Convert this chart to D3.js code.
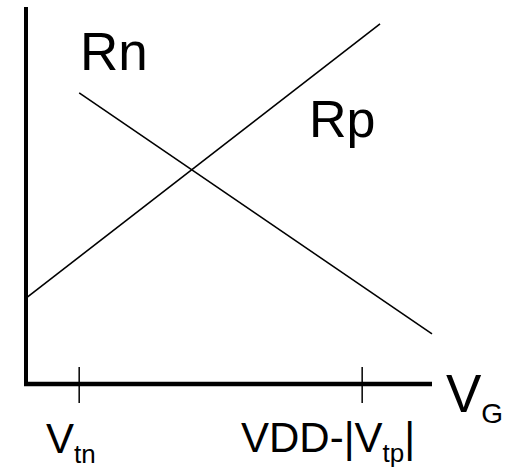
<!DOCTYPE html>
<html>
<head>
<meta charset="utf-8">
<script src="https://cdn.jsdelivr.net/npm/d3@7"></script>
<style>
  body { margin: 0; background: white; }
  svg text { font-family: "Liberation Sans", Arial, sans-serif; fill: black; }
</style>
</head>
<body>
<svg id="chart"></svg>
<script>
const svgWidth = 505;
const svgHeight = 468;

// gate voltage positions (normalised 0..1 along the V_G axis)
const tickNames = ["tn", "VDD"];
const tickValues = [0.131, 0.828];

// resistance curves, two end points each (x = V_G, y = R)
const rnX = [0.131, 1.0];
const rnY = [0.772, 0.133];
const rpX = [0.0, 0.872];
const rpY = [0.228, 0.955];

const svg = d3.select("#chart")
    .attr("width", svgWidth)
    .attr("height", svgHeight);

const xScale = d3.scaleLinear().domain([0, 1]).range([26, 432]);
const yScale = d3.scaleLinear().domain([0, 1]).range([384, 7]);

const line = d3.line()
    .x(d => xScale(d[0]))
    .y(d => yScale(d[1]));

// axes
svg.append("line")
    .attr("x1", xScale(0)).attr("x2", xScale(0))
    .attr("y1", yScale(1)).attr("y2", yScale(0) + 2)
    .attr("stroke", "black").attr("stroke-width", 4);

svg.append("line")
    .attr("x1", xScale(0) - 2).attr("x2", xScale(1))
    .attr("y1", yScale(0)).attr("y2", yScale(0))
    .attr("stroke", "black").attr("stroke-width", 4.5);

// ticks crossing the axis
svg.selectAll(".tick")
    .data(tickValues)
    .enter().append("line")
    .attr("class", "tick")
    .attr("x1", d => xScale(d)).attr("x2", d => xScale(d))
    .attr("y1", yScale(0) - 17).attr("y2", yScale(0) + 19)
    .attr("stroke", "black").attr("stroke-width", 1.5);

// curves
svg.append("path")
    .datum(d3.zip(rnX, rnY))
    .attr("d", line)
    .attr("fill", "none").attr("stroke", "black").attr("stroke-width", 1.6);

svg.append("path")
    .datum(d3.zip(rpX, rpY))
    .attr("d", line)
    .attr("fill", "none").attr("stroke", "black").attr("stroke-width", 1.6);

// curve labels
svg.append("text")
    .attr("x", 80).attr("y", 70)
    .style("font-size", "53px")
    .text("Rn");

svg.append("text")
    .attr("x", 309).attr("y", 137)
    .style("font-size", "52px")
    .text("Rp");

// axis label
const vg = svg.append("text")
    .attr("x", 446).attr("y", 412)
    .style("font-size", "53px");
vg.append("tspan").text("V");
vg.append("tspan").attr("dy", 11).style("font-size", "28px").text("G");

// tick labels
const t1 = svg.append("text")
    .attr("x", 46).attr("y", 453)
    .style("font-size", "42px");
t1.append("tspan").text("V");
t1.append("tspan").attr("dy", 10).style("font-size", "26px").text("tn");

const t2 = svg.append("text")
    .attr("x", 241).attr("y", 452)
    .style("font-size", "42px");
t2.append("tspan").text("VDD-|V");
t2.append("tspan").attr("dy", 10).style("font-size", "26px").text("tp");
t2.append("tspan").attr("dy", -10).text("|");
</script>
</body>
</html>
